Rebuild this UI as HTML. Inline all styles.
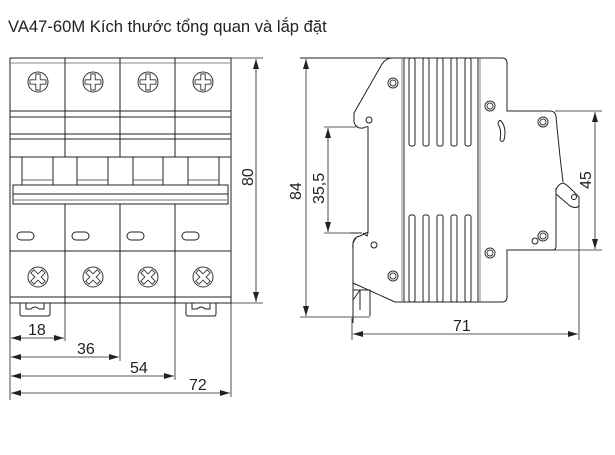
<!DOCTYPE html>
<html><head><meta charset="utf-8"><style>
html,body{margin:0;padding:0;background:#fff;}
svg{display:block;}
text{font-family:"Liberation Sans",sans-serif;fill:#222;}
</style></head><body>
<svg width="615" height="455" viewBox="0 0 615 455" xmlns="http://www.w3.org/2000/svg">
<defs>
<marker id="a" viewBox="0 0 10 6" refX="10" refY="3" markerWidth="10" markerHeight="6" orient="auto-start-reverse" markerUnits="userSpaceOnUse"><path d="M0,0 L10,3 L0,6 Z" fill="#222"/></marker>
<g id="ts"><circle r="10" fill="none" stroke="#333" stroke-width="1"/><path d="M-2.2,-8 h4.4 v5.8 h5.8 v4.4 h-5.8 v5.8 h-4.4 v-5.8 h-5.8 v-4.4 h5.8 z" fill="none" stroke="#333" stroke-width="0.9"/></g>
<g id="bs"><circle r="10" fill="none" stroke="#333" stroke-width="1"/><g transform="rotate(45)"><path d="M-2.2,-8 h4.4 v5.8 h5.8 v4.4 h-5.8 v5.8 h-4.4 v-5.8 h-5.8 v-4.4 h5.8 z" fill="none" stroke="#333" stroke-width="0.9"/></g></g>
<g id="hole"><circle r="5" fill="none" stroke="#333" stroke-width="1"/><circle r="3" fill="none" stroke="#333" stroke-width="0.9"/></g>
</defs>
<text x="8" y="32" font-size="16.6" style="font-family:'Liberation Sans','DejaVu Sans',sans-serif">VA47-60M Kích thước tổng quan và lắp đặt</text>

<g fill="none" stroke="#222" stroke-width="1">
<rect x="10" y="58" width="221" height="245"/>
<line x1="10" y1="63" x2="231" y2="63" stroke="#888"/>
<line x1="10" y1="111" x2="231" y2="111"/>
<line x1="10" y1="117" x2="231" y2="117"/>
<line x1="10" y1="134" x2="231" y2="134"/>
<line x1="10" y1="139" x2="231" y2="139"/>
<line x1="10" y1="157" x2="231" y2="157"/>
<line x1="65" y1="58" x2="65" y2="157"/><line x1="120" y1="58" x2="120" y2="157"/><line x1="175" y1="58" x2="175" y2="157"/>
<path d="M22,185 V157 M53,185 V157 M77,185 V157 M108,185 V157 M133,185 V157 M163,185 V157 M188,185 V157 M219,185 V157"/>
<path d="M22,180 H53 M77,180 H108 M133,180 H163 M188,180 H219" stroke="#666"/>
<rect x="13" y="185" width="215" height="19" fill="#fff"/>
<line x1="13" y1="194" x2="228" y2="194"/>
<line x1="13" y1="200" x2="228" y2="200" stroke="#777"/>
<line x1="65" y1="204" x2="65" y2="303"/><line x1="120" y1="204" x2="120" y2="303"/><line x1="175" y1="204" x2="175" y2="303"/>
<line x1="10" y1="251" x2="231" y2="251"/>
<line x1="10" y1="297" x2="231" y2="297"/>
<rect x="17" y="232" width="17" height="8" rx="4"/><rect x="72" y="232" width="17" height="8" rx="4"/><rect x="127" y="232" width="17" height="8" rx="4"/><rect x="182" y="232" width="17" height="8" rx="4"/>
<path d="M20,303 V314 Q20,316 22,316 H48 Q50,316 50,314 V303"/>
<path d="M26,303 V309 H31 Q35,305 39,309 H44 V303"/>
<path d="M186,303 V314 Q186,316 188,316 H214 Q216,316 216,314 V303"/>
<path d="M192,303 V309 H197 Q201,305 205,309 H210 V303"/>
</g>
<use href="#ts" x="38" y="82"/><use href="#ts" x="93" y="82"/><use href="#ts" x="148" y="82"/><use href="#ts" x="203" y="82"/>
<use href="#bs" x="38" y="277"/><use href="#bs" x="93" y="277"/><use href="#bs" x="148" y="277"/><use href="#bs" x="203" y="277"/>

<g stroke="#222" stroke-width="0.8" fill="none">
<line x1="231" y1="58" x2="263" y2="58"/><line x1="231" y1="303" x2="263" y2="303"/>
<line x1="256" y1="59" x2="256" y2="302" marker-start="url(#a)" marker-end="url(#a)"/>
<line x1="10" y1="303" x2="10" y2="400"/>
<line x1="65" y1="303" x2="65" y2="341"/><line x1="120" y1="303" x2="120" y2="361"/><line x1="175" y1="303" x2="175" y2="380"/><line x1="231" y1="303" x2="231" y2="397"/>
<line x1="11" y1="338" x2="64" y2="338" marker-start="url(#a)" marker-end="url(#a)"/>
<line x1="11" y1="357" x2="119" y2="357" marker-start="url(#a)" marker-end="url(#a)"/>
<line x1="11" y1="376" x2="174" y2="376" marker-start="url(#a)" marker-end="url(#a)"/>
<line x1="11" y1="393" x2="230" y2="393" marker-start="url(#a)" marker-end="url(#a)"/>
</g>
<text x="28" y="335" font-size="16">18</text>
<text x="77" y="354" font-size="16">36</text>
<text x="130" y="373" font-size="16">54</text>
<text x="189" y="390" font-size="16">72</text>
<text transform="translate(253,186) rotate(-90)" font-size="16">80</text>

<g fill="none" stroke="#222" stroke-width="1">
<path d="M300,58 H392 Q386,58 382,64 L354,113 V122 Q356,129 363,128 Q368,126 368,127 V233"/>
<path d="M392,58 H502 Q507,58 507,63 V111 H550 Q555,111 556,116 Q559,150 563,182"/>
<path d="M363,233 L367,236 L368,233 M368,232 L360,236 Q354,237 353,243 V323"/>
<path d="M350,233 L362,233" />
<path d="M356,238 Q352,243 353,248 V283 L395,302 H502 Q507,302 507,297 V250 H553 Q556,250 556,246 V188"/>
<path d="M556,190 Q558,184 563,183 Q566,184 571,189 L579,197 L579,206 Q576,209 570,206 L556,194"/>
<path d="M353,283 V290 H370 V316 M353,300 L360,290 M360,290 V310"/>
<line x1="402" y1="58" x2="402" y2="302" stroke="#888"/>
<line x1="480" y1="58" x2="480" y2="302" stroke="#888"/>
<line x1="478" y1="58" x2="478" y2="302"/>
<line x1="404" y1="58" x2="404" y2="302"/>
<g>
<rect x="409" y="58" width="6" height="88" rx="2"/><rect x="423" y="58" width="6" height="88" rx="2"/><rect x="437" y="58" width="6" height="88" rx="2"/><rect x="451" y="58" width="6" height="88" rx="2"/><rect x="465" y="58" width="6" height="88" rx="2"/>
<rect x="409" y="215" width="6" height="87" rx="2"/><rect x="423" y="215" width="6" height="87" rx="2"/><rect x="437" y="215" width="6" height="87" rx="2"/><rect x="451" y="215" width="6" height="87" rx="2"/><rect x="465" y="215" width="6" height="87" rx="2"/>
</g>
<path d="M501,121 Q507,128 504,140 Q502,143 500,140 Q502,130 498,124 Q499,119 501,121 Z"/>
<circle cx="369" cy="120" r="3"/><circle cx="374" cy="245" r="3"/><circle cx="574" cy="197" r="2.5"/><circle cx="535" cy="241" r="3"/>
</g>
<use href="#hole" x="393" y="83"/><use href="#hole" x="490" y="106"/><use href="#hole" x="543" y="122"/>
<use href="#hole" x="543" y="236"/><use href="#hole" x="490" y="253"/><use href="#hole" x="393" y="276"/>

<g stroke="#222" stroke-width="0.8" fill="none">
<line x1="300" y1="58" x2="392" y2="58"/><line x1="300" y1="317" x2="370" y2="317"/>
<line x1="306" y1="59" x2="306" y2="316" marker-start="url(#a)" marker-end="url(#a)"/>
<line x1="324" y1="127" x2="356" y2="127"/><line x1="324" y1="233" x2="360" y2="233"/>
<line x1="328" y1="128" x2="328" y2="232" marker-start="url(#a)" marker-end="url(#a)"/>
<line x1="555" y1="111" x2="602" y2="111"/><line x1="553" y1="250" x2="602" y2="250"/>
<line x1="595" y1="112" x2="595" y2="249" marker-start="url(#a)" marker-end="url(#a)"/>
<line x1="579" y1="206" x2="579" y2="340"/><line x1="352" y1="318" x2="352" y2="340"/>
<line x1="353" y1="334" x2="578" y2="334" marker-start="url(#a)" marker-end="url(#a)"/>
</g>
<text transform="translate(301,200) rotate(-90)" font-size="16">84</text>
<text transform="translate(324,204) rotate(-90)" font-size="16">35,5</text>
<text transform="translate(591,189) rotate(-90)" font-size="16">45</text>
<text x="453" y="331" font-size="16">71</text>
</svg>
</body></html>
